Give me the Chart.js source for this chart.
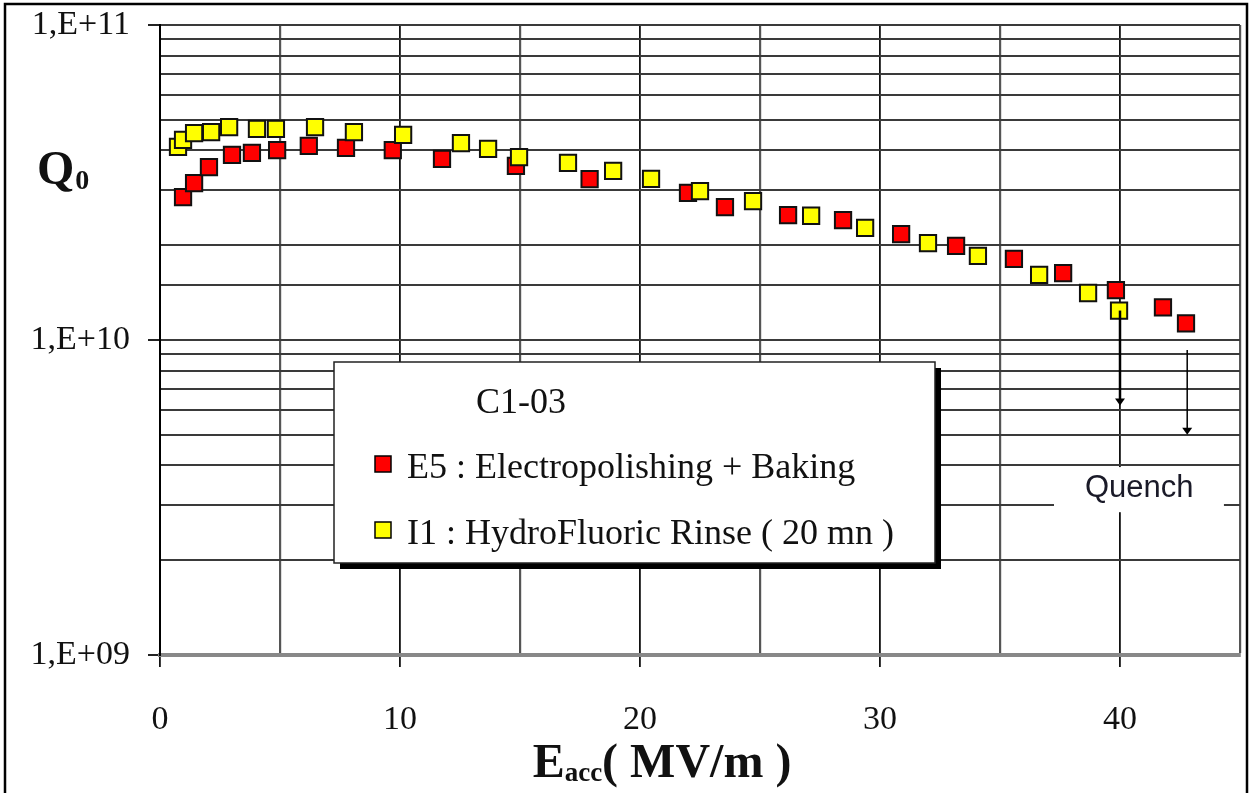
<!DOCTYPE html>
<html>
<head>
<meta charset="utf-8">
<script src="https://cdn.jsdelivr.net/npm/chart.js@4"></script>
<style>
  body { margin: 0; background: #fff; }
  #wrap { width: 1254px; height: 793px; position: relative; }
</style>
</head>
<body>
<div id="wrap"><canvas id="qChart"></canvas></div>
<script>
// E5 : Electropolishing + Baking
const e5Eacc = [0.96, 1.42, 2.04, 3.0, 3.83, 4.88, 6.2, 7.75, 9.7, 11.75, 14.83, 17.9, 22.0, 23.54, 26.17, 28.46, 30.88, 33.17, 35.58, 37.63, 39.83, 41.79, 42.75];
const e5Q0 = [2.84e10, 3.15e10, 3.54e10, 3.87e10, 3.93e10, 4.01e10, 4.13e10, 4.07e10, 4.01e10, 3.76e10, 3.57e10, 3.24e10, 2.93e10, 2.64e10, 2.49e10, 2.40e10, 2.17e10, 1.99e10, 1.81e10, 1.63e10, 1.44e10, 1.27e10, 1.13e10];

// I1 : HydroFluoric Rinse (20 mn)
const i1Eacc = [0.75, 0.96, 1.42, 2.13, 2.88, 4.04, 4.83, 6.46, 8.08, 10.13, 12.54, 13.67, 14.96, 17.0, 18.88, 20.46, 22.5, 24.71, 27.13, 29.38, 32.0, 34.08, 36.63, 38.67, 39.96];
const i1Q0 = [4.10e10, 4.32e10, 4.54e10, 4.57e10, 4.74e10, 4.68e10, 4.68e10, 4.74e10, 4.57e10, 4.48e10, 4.22e10, 4.04e10, 3.81e10, 3.65e10, 3.44e10, 3.25e10, 2.97e10, 2.76e10, 2.48e10, 2.27e10, 2.03e10, 1.85e10, 1.61e10, 1.41e10, 1.24e10];

const xTickValues = [0, 10, 20, 30, 40];
const xTickLabels = ['0', '10', '20', '30', '40'];
const yTickValues = [1e9, 1e10, 1e11];
const yTickLabels = ['1,E+09', '1,E+10', '1,E+11'];

// quench arrows: Eacc, Q0 start, Q0 end
const quenchArrows = [
    { x: 40.0, from: 1.24e10, to: 6.2e9, width: 2.5 },
    { x: 42.8, from: 9.3e9, to: 5.0e9, width: 1.5 }
];

const serif = "'Liberation Serif', 'Times New Roman', serif";

function xMajorIndex(v) {
    return xTickValues.indexOf(v);
}
function yMajorIndex(v) {
    return yTickValues.findIndex(t => Math.abs(Math.log10(v) - Math.log10(t)) < 1e-6);
}

const toPoints = (xs, ys) => xs.map((v, i) => ({ x: v, y: ys[i] }));

const decorations = {
    id: 'decorations',
    afterDraw(chart) {
        const { ctx, chartArea: area, scales: { x, y } } = chart;
        ctx.save();

        // Quench label box
        const qx0 = x.getPixelForValue(37.25), qx1 = x.getPixelForValue(44.33);
        const qy0 = y.getPixelForValue(3.95e9), qy1 = y.getPixelForValue(2.84e9);
        ctx.fillStyle = '#fff';
        ctx.fillRect(qx0, qy0, qx1 - qx0, qy1 - qy0);
        ctx.fillStyle = '#1a1a28';
        ctx.font = "31px 'Liberation Sans', Arial, sans-serif";
        ctx.textAlign = 'center';
        ctx.textBaseline = 'middle';
        ctx.fillText('Quench', x.getPixelForValue(40.8), y.getPixelForValue(3.39e9));

        // arrows
        ctx.strokeStyle = '#000';
        ctx.fillStyle = '#000';
        quenchArrows.forEach(a => {
            const px = x.getPixelForValue(a.x);
            const py0 = y.getPixelForValue(a.from);
            const py1 = y.getPixelForValue(a.to);
            ctx.lineWidth = a.width;
            ctx.beginPath();
            ctx.moveTo(px, py0);
            ctx.lineTo(px, py1 - 6);
            ctx.stroke();
            ctx.beginPath();
            ctx.moveTo(px - 5, py1 - 7);
            ctx.lineTo(px + 5, py1 - 7);
            ctx.lineTo(px, py1);
            ctx.closePath();
            ctx.fill();
        });

        // legend box with shadow
        const lx = area.left + 174, ly = area.top + 337, lw = 601, lh = 201;
        ctx.fillStyle = '#000';
        ctx.fillRect(lx + 6, ly + 6, lw, lh);
        ctx.fillStyle = '#fff';
        ctx.fillRect(lx, ly, lw, lh);
        ctx.lineWidth = 1.5;
        ctx.strokeStyle = '#222';
        ctx.strokeRect(lx, ly, lw, lh);

        ctx.textAlign = 'left';
        ctx.textBaseline = 'alphabetic';
        ctx.fillStyle = '#111';
        ctx.font = '36px ' + serif;
        ctx.fillText('C1-03', lx + 142, ly + 51);

        const legendOrder = [0, 1];
        legendOrder.forEach((di, k) => {
            const ds = chart.data.datasets[di];
            const cy = ly + 102 + k * 66;
            ctx.fillStyle = ds.backgroundColor;
            ctx.fillRect(lx + 41, cy - 8, 16, 16);
            ctx.lineWidth = 1.5;
            ctx.strokeStyle = '#000';
            ctx.strokeRect(lx + 41, cy - 8, 16, 16);
            ctx.fillStyle = '#111';
            ctx.font = '36px ' + serif;
            ctx.fillText(ds.label, lx + 73, cy + 14);
        });

        // axis titles
        ctx.fillStyle = '#111';
        ctx.font = 'bold 48px ' + serif;
        ctx.fillText('Q', 37, 184);
        const qW = ctx.measureText('Q').width;
        ctx.font = 'bold 28px ' + serif;
        ctx.fillText('0', 37 + qW + 1, 189);

        const bigFont = 'bold 48px ' + serif, subFont = 'bold 27px ' + serif;
        ctx.font = bigFont;
        const eW = ctx.measureText('E').width;
        const restW = ctx.measureText('( MV/m )').width;
        ctx.font = subFont;
        const accW = ctx.measureText('acc').width;
        let tx = 662 - (eW + accW + restW) / 2;
        const base = 777;
        ctx.font = bigFont;
        ctx.fillText('E', tx, base);
        tx += eW;
        ctx.font = subFont;
        ctx.fillText('acc', tx, base + 4);
        tx += accW;
        ctx.font = bigFont;
        ctx.fillText('( MV/m )', tx, base);

        // outer frame
        ctx.strokeStyle = '#000';
        ctx.lineWidth = 2.5;
        ctx.beginPath();
        ctx.moveTo(5, 793);
        ctx.lineTo(5, 4);
        ctx.lineTo(1247, 4);
        ctx.lineTo(1247, 793);
        ctx.stroke();

        ctx.restore();
    }
};

new Chart(document.getElementById('qChart'), {
    type: 'scatter',
    data: {
        datasets: [
            {
                label: 'E5 : Electropolishing + Baking',
                data: toPoints(e5Eacc, e5Q0),
                backgroundColor: '#ff0000',
                borderColor: '#111',
                borderWidth: 2,
                pointStyle: 'rect',
                pointRadius: 11.5,
                order: 1
            },
            {
                label: 'I1 : HydroFluoric Rinse ( 20 mn )',
                data: toPoints(i1Eacc, i1Q0),
                backgroundColor: '#ffff00',
                borderColor: '#111',
                borderWidth: 2,
                pointStyle: 'rect',
                pointRadius: 11.5,
                order: 0
            }
        ]
    },
    options: {
        responsive: true,
        maintainAspectRatio: false,
        animation: false,
        layout: { padding: { top: 25, right: 14, left: 0, bottom: 0 } },
        plugins: {
            legend: { display: false },
            tooltip: { enabled: false }
        },
        scales: {
            x: {
                type: 'linear',
                min: 0,
                max: 45,
                afterFit(scale) {
                    scale.height = 138;
                    scale.paddingLeft = 0;
                    scale.paddingRight = 0;
                },
                ticks: {
                    stepSize: 5,
                    autoSkip: false,
                    maxRotation: 0,
                    padding: 33,
                    color: '#111',
                    font: { family: serif, size: 34 },
                    callback: v => {
                        const i = xMajorIndex(v);
                        return i >= 0 ? xTickLabels[i] : '';
                    }
                },
                grid: {
                    tickLength: 12,
                    color: ctx => xMajorIndex(ctx.tick.value) >= 0 ? '#111' : '#555',
                    lineWidth: ctx => xMajorIndex(ctx.tick.value) >= 0 ? 1.8 : 2.2,
                    tickColor: ctx => xMajorIndex(ctx.tick.value) >= 0 ? '#111' : 'rgba(0,0,0,0)'
                },
                border: { color: '#888', width: 4 }
            },
            y: {
                type: 'logarithmic',
                min: 1e9,
                max: 1e11,
                afterFit(scale) {
                    scale.width = 160;
                    scale.paddingTop = 0;
                    scale.paddingBottom = 0;
                },
                ticks: {
                    autoSkip: false,
                    padding: 18,
                    color: '#111',
                    font: { family: serif, size: 34 },
                    callback: v => {
                        const i = yMajorIndex(v);
                        return i >= 0 ? yTickLabels[i] : '';
                    }
                },
                grid: {
                    tickLength: 12,
                    color: ctx => ctx.tick.value <= 1e9 ? '#888' : '#3a3a3a',
                    lineWidth: 2,
                    tickColor: ctx => yMajorIndex(ctx.tick.value) >= 0 ? '#222' : 'rgba(0,0,0,0)'
                },
                border: { color: '#000', width: 2 }
            }
        }
    },
    plugins: [decorations]
});
</script>
</body>
</html>
